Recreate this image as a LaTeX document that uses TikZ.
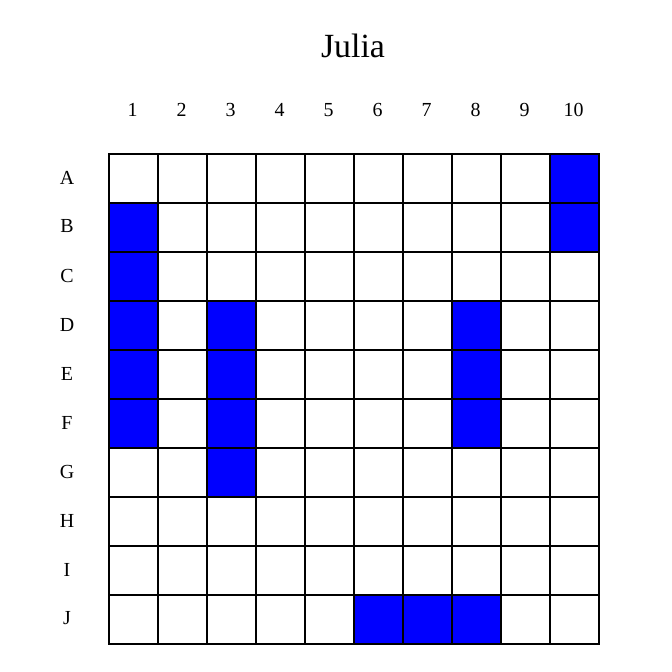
\documentclass[tikz,border=0pt]{standalone}
\usepackage{fontspec}
\setmainfont{Liberation Serif}
\begin{document}
\begin{tikzpicture}[x=1bp,y=-1bp,
  cell/.style={draw=black,line width=1.5bp,fill=white,minimum size=49bp,inner sep=0pt,anchor=north west},
  hit/.style={draw=black,line width=1.5bp,fill=blue,minimum size=49bp,inner sep=0pt,anchor=north west},
  lab/.style={font=\fontsize{20}{24}\selectfont,anchor=center},
  ttl/.style={font=\fontsize{34}{40}\selectfont,anchor=center}]
\useasboundingbox (0,0) rectangle (672,672);
\fill[white] (0,0) rectangle (672,672);
\node[ttl] (title) at (353,46) {Julia};
\foreach \c in {1,...,10} {
  \node[lab] (col\c) at ({108+49*(\c-1)+24.5},110) {\c};
}
\foreach \r [count=\i from 0] in {A,B,C,D,E,F,G,H,I,J} {
  \node[lab] (row\r) at (67,{153+49*\i+24.5}) {\r};
  \foreach \c in {1,...,10} {
    \node[cell] (c\r\c) at ({108+49*(\c-1)},{153+49*\i}) {};
  }
}
\foreach \r/\c/\i in {A/10/0,B/1/1,B/10/1,C/1/2,D/1/3,D/3/3,D/8/3,E/1/4,E/3/4,E/8/4,F/1/5,F/3/5,F/8/5,G/3/6,J/6/9,J/7/9,J/8/9} {
  \node[hit] (h\r\c) at ({108+49*(\c-1)},{153+49*\i}) {};
}
\end{tikzpicture}
\end{document}
